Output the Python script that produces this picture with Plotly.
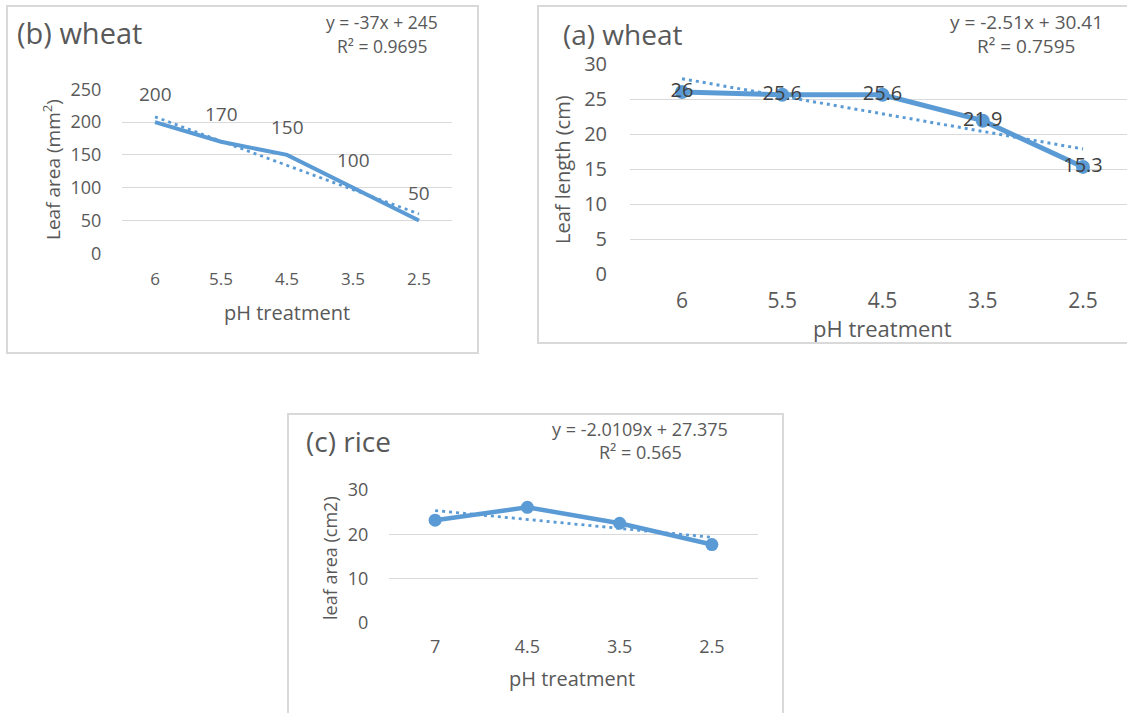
import plotly.graph_objects as go

W, H = 1127, 713
FONT = "Open Sans"
BLUE = "#5B9BD5"
GRAY = "#595959"
GRID = "#D9D9D9"
DOT = "3px,4px"

# ---- data ----
b_cats = ["6", "5.5", "4.5", "3.5", "2.5"]
b_area = [200, 170, 150, 100, 50]
b_slope, b_icpt, b_r2 = -37, 245, "0.9695"

a_cats = ["6", "5.5", "4.5", "3.5", "2.5"]
a_len = [26, 25.6, 25.6, 21.9, 15.3]
a_slope, a_icpt, a_r2 = -2.51, 30.41, "0.7595"

c_cats = ["7", "4.5", "3.5", "2.5"]
c_area = [23.2, 26.1, 22.5, 17.7]
c_slope, c_icpt, c_r2 = -2.0109, 27.375, "0.565"


def px(x):
    return x / W


def py(y):
    return 1 - y / H


def trend(slope, icpt, n):
    return [slope * (i + 1) + icpt for i in range(n)]


fig = go.Figure()

# panel b
fig.add_trace(go.Scatter(x=b_cats, y=b_area, mode="lines", line=dict(color=BLUE, width=4),
                         xaxis="x", yaxis="y", hoverinfo="skip"))
fig.add_trace(go.Scatter(x=b_cats, y=trend(b_slope, b_icpt, len(b_cats)), mode="lines",
                         line=dict(color=BLUE, width=2.8, dash=DOT), xaxis="x", yaxis="y"))
# panel a
fig.add_trace(go.Scatter(x=a_cats, y=a_len, mode="lines+markers+text",
                         line=dict(color=BLUE, width=5), marker=dict(color=BLUE, size=14),
                         text=[f"{v:g}" for v in a_len], textposition="middle center",
                         textfont=dict(family=FONT, size=20, color="#404040"),
                         xaxis="x2", yaxis="y2"))
fig.add_trace(go.Scatter(x=a_cats, y=trend(a_slope, a_icpt, len(a_cats)), mode="lines",
                         line=dict(color=BLUE, width=3, dash=DOT), xaxis="x2", yaxis="y2"))
# panel c
fig.add_trace(go.Scatter(x=c_cats, y=c_area, mode="lines+markers",
                         line=dict(color=BLUE, width=4.5), marker=dict(color=BLUE, size=13),
                         xaxis="x3", yaxis="y3"))
fig.add_trace(go.Scatter(x=c_cats, y=trend(c_slope, c_icpt, len(c_cats)), mode="lines",
                         line=dict(color=BLUE, width=2.8, dash=DOT), xaxis="x3", yaxis="y3"))


def xax(dom, rng, size, standoff):
    return dict(domain=dom, type="category", range=rng, showgrid=False, zeroline=False,
                showline=False, ticks="outside", ticklen=standoff, tickcolor="rgba(0,0,0,0)",
                tickfont=dict(family=FONT, size=size, color=GRAY), fixedrange=True,
                automargin=False)


def yax(dom, rng, dtick, size, standoff, anchor):
    return dict(domain=dom, range=rng, dtick=dtick, showgrid=True, gridcolor=GRID, gridwidth=1.3,
                zeroline=False, showline=False, ticks="outside", ticklen=standoff,
                tickcolor="rgba(0,0,0,0)", anchor=anchor, automargin=False,
                tickfont=dict(family=FONT, size=size, color=GRAY), fixedrange=True)


layout = dict(
    width=W, height=H, autosize=False,
    margin=dict(l=0, r=0, t=0, b=0, pad=0, autoexpand=False), showlegend=False,
    paper_bgcolor="white", plot_bgcolor="white",
    xaxis=xax([px(122), px(452)], [-0.5, 4.5], 17, 10) | dict(anchor="y"),
    yaxis=yax([py(253.3), py(89.3)], [0, 250], 50, 18, 16, "x"),
    xaxis2=xax([px(630), 1.0], [-0.519, 4.439], 21, 8) | dict(anchor="y2"),
    yaxis2=yax([py(274), py(64)], [0, 30], 5, 20, 18, "x2"),
    xaxis3=xax([px(389), px(758)], [-0.5, 3.5], 18, 7) | dict(anchor="y3"),
    yaxis3=yax([py(623), py(490)], [0, 30], 10, 18, 16, "x3"),
)
fig.update_layout(**layout)

shapes = [
    dict(type="rect", xref="paper", yref="paper", x0=px(7), x1=px(478), y0=py(353), y1=py(6),
         line=dict(color=GRID, width=2)),
    dict(type="rect", xref="paper", yref="paper", x0=px(538), x1=px(1135), y0=py(343), y1=py(6),
         line=dict(color=GRID, width=2)),
    dict(type="rect", xref="paper", yref="paper", x0=px(288), x1=px(783), y0=py(720), y1=py(414),
         line=dict(color=GRID, width=2)),
]
fig.update_layout(shapes=shapes)


def note(text, x, y, size, color=GRAY, xanchor="center", angle=0):
    return dict(text=text, x=px(x), y=py(y), xref="paper", yref="paper", showarrow=False,
                xanchor=xanchor, yanchor="middle", textangle=angle,
                font=dict(family=FONT, size=size, color=color))


ann = [
    # panel b
    note("(b) wheat", 15, 32, 29, xanchor="left"),
    note(f"y = {b_slope}x + {b_icpt}", 382, 22, 17.5),
    note(f"R² = {b_r2}", 382, 46, 17.5),
    note("Leaf area (mm<sup>2</sup>)", 52, 170, 19, angle=-90),
    note("pH treatment", 287, 312, 20),
    # panel a
    note("(a) wheat", 561, 34, 28, xanchor="left"),
    note(f"y = {a_slope}x + {a_icpt}", 1026, 22, 19),
    note(f"R² = {a_r2}", 1026, 46, 19),
    note("Leaf length (cm)", 562, 170, 20, angle=-90),
    note("pH treatment", 882, 328, 22),
    # panel c
    note("(c) rice", 304, 441, 28, xanchor="left"),
    note(f"y = {c_slope}x + {c_icpt}", 640, 429, 18),
    note(f"R² = {c_r2}", 640, 452, 18),
    note("leaf area (cm2)", 330, 558, 18, angle=-90),
    note("pH treatment", 572, 678, 20),
]
for i, v in enumerate(b_area):
    ann.append(dict(text=f"{v}", x=i, y=v, xref="x", yref="y", showarrow=False, yshift=28,
                    font=dict(family=FONT, size=19, color=GRAY)))
fig.update_layout(annotations=ann)

fig.write_html("out.html", config={"displayModeBar": False},
               post_script="document.body.style.margin='0';")
